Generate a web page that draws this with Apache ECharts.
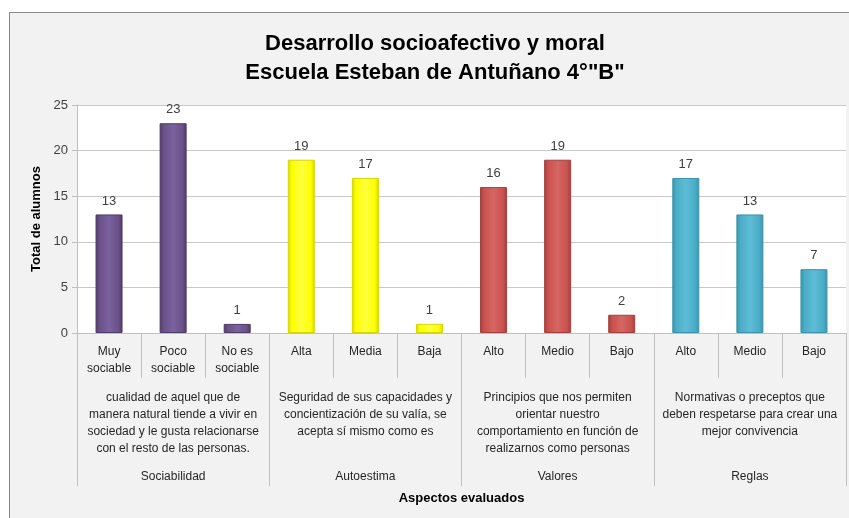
<!DOCTYPE html>
<html>
<head>
<meta charset="utf-8">
<script src="https://cdn.jsdelivr.net/npm/echarts@6/dist/echarts.min.js"></script>
<style>
html,body{margin:0;padding:0;background:#fff;overflow:hidden;}
#bg{position:absolute;left:9px;top:12px;width:860px;height:520px;background:#f2f2f2;border-left:1.5px solid #8a8a8a;border-top:1.5px solid #8a8a8a;}
#chart{position:absolute;left:0;top:0;width:849px;height:518px;}
</style>
</head>
<body>
<div id="bg"></div>
<div id="chart"></div>
<script>
const titleLines = ['Desarrollo socioafectivo y moral', 'Escuela Esteban de Antuñano 4°"B"'];
const categories = ['Muy\nsociable','Poco\nsociable','No es\nsociable','Alta','Media','Baja','Alto','Medio','Bajo','Alto','Medio','Bajo'];
const values = [13, 23, 1, 19, 17, 1, 16, 19, 2, 17, 13, 7];
const groupOfCategory = [0,0,0,1,1,1,2,2,2,3,3,3];
const groups = ['Sociabilidad','Autoestima','Valores','Reglas'];
const descriptions = [
  'cualidad de aquel que de\nmanera natural tiende a vivir en\nsociedad y le gusta relacionarse\ncon el resto de las personas.',
  'Seguridad de sus capacidades y\nconcientización de su valía, se\nacepta sí mismo como es',
  'Principios que nos permiten\norientar nuestro\ncomportamiento en función de\nrealizarnos como personas',
  'Normativas o preceptos que\ndeben respetarse para crear una\nmejor convivencia'
];
const yTicks = {min: 0, max: 25, interval: 5};
const yName = 'Total de alumnos';
const xName = 'Aspectos evaluados';

const palette = [
  {dark:'#4e3b66', base:'#6a5187', light:'#7a62a0'},
  {dark:'#d6d600', base:'#ffff00', light:'#ffff40'},
  {dark:'#a23f3c', base:'#c9524f', light:'#d66663'},
  {dark:'#3a93ab', base:'#4bacc6', light:'#5dbdd6'}
];
function grad(p){
  return new echarts.graphic.LinearGradient(0,0,1,0,[
    {offset:0, color:p.dark},{offset:0.15, color:p.base},{offset:0.5, color:p.light},{offset:0.85, color:p.base},{offset:1, color:p.dark}
  ]);
}
const seriesData = values.map((v,i)=>{
  const p = palette[groupOfCategory[i]];
  return {value:v, itemStyle:{color:grad(p), borderColor:p.dark, borderWidth:1}};
});

const FONT = 'Liberation Sans';
const chart = echarts.init(document.getElementById('chart'), null, {renderer:'canvas'});
chart.setOption({
  backgroundColor:'transparent',
  animation:false,
  textStyle:{fontFamily:FONT},
  title:{
    text: titleLines.join('\n'),
    left:435,
    textAlign:'center',
    top:29,
    padding:0,
    textStyle:{fontFamily:FONT, fontWeight:'bold', fontSize:22, lineHeight:29, color:'#000'}
  },
  grid:{left:77, right:3, top:105, bottom:185, show:true, backgroundColor:'#fff', borderWidth:0},
  xAxis:[
    {
      type:'category', data:categories, position:'bottom',
      axisLine:{show:true, lineStyle:{color:'#bfbfbf', width:1}},
      axisTick:{show:true, interval:0, length:45, lineStyle:{color:'#bfbfbf'}},
      axisLabel:{interval:0, margin:10, fontSize:12, lineHeight:17, color:'#262626', fontFamily:FONT}
    },
    {
      type:'category', data:groups, position:'bottom',
      axisLine:{show:false},
      axisTick:{show:true, interval:0, length:153, lineStyle:{color:'#bfbfbf'}},
      axisLabel:{interval:0, margin:56, fontSize:12, lineHeight:17, color:'#262626', fontFamily:FONT,
        formatter:(v,i)=>descriptions[i]}
    },
    {
      type:'category', data:groups, position:'bottom',
      axisLine:{show:false}, axisTick:{show:false},
      axisLabel:{interval:0, margin:135, fontSize:12, lineHeight:17, color:'#262626', fontFamily:FONT},
      name:xName, nameLocation:'middle', nameGap:159,
      nameTextStyle:{fontWeight:'bold', fontSize:13, color:'#000', fontFamily:FONT}
    }
  ],
  yAxis:{
    type:'value', min:yTicks.min, max:yTicks.max, interval:yTicks.interval,
    axisLine:{show:true, lineStyle:{color:'#bfbfbf'}},
    axisTick:{show:true, length:5, lineStyle:{color:'#bfbfbf'}},
    axisLabel:{margin:9, fontSize:13, color:'#404040', fontFamily:FONT},
    splitLine:{show:true, lineStyle:{color:'#c8c8c8'}},
    name:yName, nameLocation:'middle', nameGap:34, nameRotate:90,
    nameTextStyle:{fontWeight:'bold', fontSize:13, color:'#000', fontFamily:FONT}
  },
  series:[{
    type:'bar', xAxisIndex:0, data:seriesData, barWidth:27,
    label:{show:true, position:'top', distance:7, fontSize:13, color:'#404040', fontFamily:FONT}
  }]
});
</script>
</body>
</html>
